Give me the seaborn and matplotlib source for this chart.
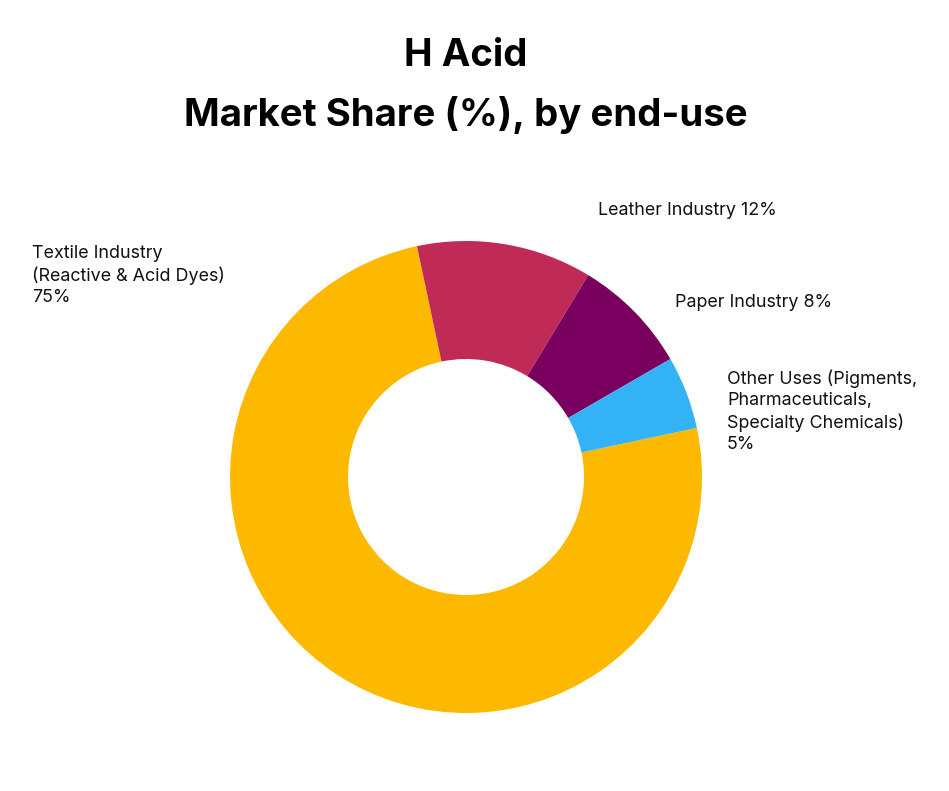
import matplotlib
matplotlib.use("Agg")
import matplotlib.pyplot as plt
import seaborn as sns

# data
segments = ["Textile Industry\n(Reactive & Acid Dyes)", "Leather Industry", "Paper Industry",
            "Other Uses (Pigments,\nPharmaceuticals,\nSpecialty Chemicals)"]
shares = [75, 12, 8, 5]
colors = ["#FDB900", "#C02A57", "#7A0060", "#33B3F5"]

sns.set_theme(style="white")
plt.rcParams['font.family'] = ['Inter', 'DejaVu Sans']

W, H = 949, 791
fig = plt.figure(figsize=(W / 100, H / 100), dpi=100)
fig.patch.set_facecolor("white")

# donut centred at (466, 477) px, outer radius 236 px
cx, cy, r = 466, 477, 236
ax = fig.add_axes([(cx - r) / W, (H - cy - r) / H, 2 * r / W, 2 * r / H])
ax.pie(shares, colors=colors, startangle=12, counterclock=False, radius=1,
       wedgeprops=dict(width=0.5, edgecolor="none"))
ax.set_xlim(-1, 1)
ax.set_ylim(-1, 1)
ax.set_aspect("equal")
ax.axis("off")

fig.text(466 / W, 1 - 56 / H, "H Acid", ha="center", va="center",
         fontsize=27.6, fontweight="bold", color="black")
fig.text(466 / W, 1 - 115 / H, "Market Share (%), by end-use", ha="center", va="center",
         fontsize=27.6, fontweight="bold", color="black")

labels = [f"{s}\n{v}%" if "\n" in s else f"{s} {v}%" for s, v in zip(segments, shares)]
label_pos = [(32, 245), (598, 202), (675, 294), (727, 370)]
for text, (x, y) in zip(labels, label_pos):
    fig.text(x / W, 1 - y / H, text, ha="left", va="top", fontsize=12.9,
             linespacing=1.3, color="#111111")

fig.savefig("out.png", dpi=100, facecolor="white")
